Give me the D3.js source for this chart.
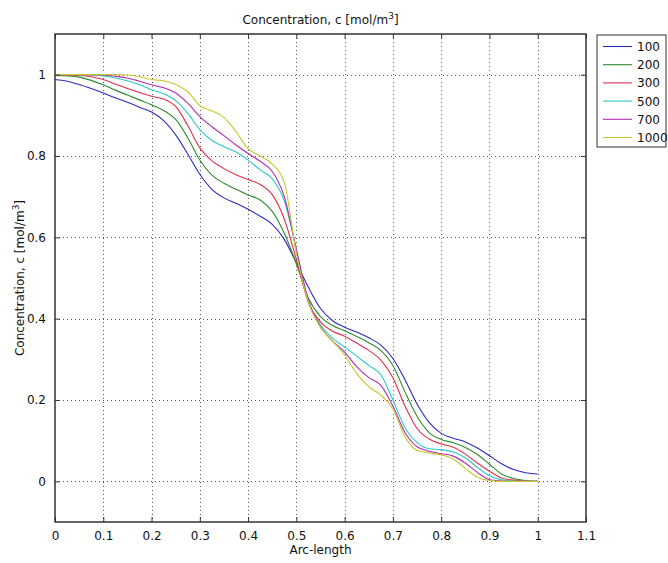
<!DOCTYPE html>
<html>
<head>
<meta charset="utf-8">
<script src="https://cdn.jsdelivr.net/npm/d3@7"></script>
<style>
  body { margin: 0; background: #fff; }
  svg text { font-family: "DejaVu Sans", sans-serif; font-size: 12px; fill: #111; }
</style>
</head>
<body>
<svg id="chart" width="668" height="563"></svg>
<script>
// Concentration along arc-length for several times

// arc-length positions (shared by every series)
const arcLength = [0, 0.025, 0.05, 0.075, 0.1, 0.125, 0.15, 0.175, 0.2, 0.225,
                   0.25, 0.275, 0.3, 0.325, 0.35, 0.375, 0.4, 0.425, 0.45, 0.475,
                   0.5, 0.525, 0.55, 0.575, 0.6, 0.625, 0.65, 0.675, 0.7, 0.725,
                   0.75, 0.775, 0.8, 0.825, 0.85, 0.875, 0.9, 0.925, 0.95, 0.975, 1.0];

const seriesNames = ['100', '200', '300', '500', '700', '1000'];

const c100 = [0.988, 0.984, 0.976, 0.966, 0.955, 0.943, 0.932, 0.920, 0.908, 0.887,
              0.852, 0.805, 0.755, 0.718, 0.697, 0.684, 0.669, 0.652, 0.632, 0.595,
              0.537, 0.477, 0.425, 0.395, 0.379, 0.367, 0.353, 0.335, 0.302, 0.250,
              0.190, 0.145, 0.118, 0.106, 0.097, 0.082, 0.063, 0.043, 0.029, 0.021, 0.018];
const c200 = [0.998, 0.997, 0.994, 0.986, 0.975, 0.962, 0.950, 0.938, 0.926, 0.912,
              0.890, 0.845, 0.790, 0.753, 0.733, 0.718, 0.704, 0.692, 0.664, 0.610,
              0.535, 0.450, 0.405, 0.383, 0.370, 0.356, 0.341, 0.322, 0.285, 0.220,
              0.160, 0.120, 0.103, 0.095, 0.083, 0.066, 0.042, 0.018, 0.007, 0.002, 0.000];
const c300 = [1.000, 0.999, 0.998, 0.995, 0.988, 0.977, 0.966, 0.956, 0.947, 0.940,
              0.922, 0.875, 0.820, 0.788, 0.769, 0.754, 0.742, 0.730, 0.705, 0.645,
              0.545, 0.440, 0.392, 0.369, 0.357, 0.340, 0.322, 0.298, 0.255, 0.185,
              0.130, 0.104, 0.092, 0.084, 0.067, 0.045, 0.025, 0.008, 0.003, 0.001, 0.000];
const c500 = [1.000, 1.000, 1.000, 0.999, 0.997, 0.992, 0.985, 0.975, 0.963, 0.953,
              0.936, 0.905, 0.865, 0.838, 0.823, 0.810, 0.790, 0.766, 0.744, 0.690,
              0.570, 0.440, 0.385, 0.352, 0.330, 0.308, 0.285, 0.262, 0.200, 0.132,
              0.095, 0.080, 0.078, 0.072, 0.058, 0.034, 0.014, 0.004, 0.001, 0.000, 0.000];
const c700 = [1.000, 1.000, 1.000, 1.000, 0.999, 0.996, 0.992, 0.984, 0.975, 0.968,
              0.955, 0.930, 0.897, 0.872, 0.850, 0.827, 0.806, 0.787, 0.762, 0.700,
              0.570, 0.445, 0.380, 0.345, 0.318, 0.282, 0.255, 0.236, 0.185, 0.120,
              0.085, 0.074, 0.068, 0.062, 0.045, 0.022, 0.004, 0.001, 0.000, 0.000, 0.000];
const c1000 = [1.000, 1.000, 1.000, 1.000, 1.000, 1.000, 0.999, 0.995, 0.988, 0.985,
               0.976, 0.958, 0.924, 0.911, 0.895, 0.860, 0.818, 0.800, 0.780, 0.735,
               0.560, 0.440, 0.378, 0.345, 0.310, 0.265, 0.233, 0.212, 0.178, 0.110,
               0.076, 0.070, 0.065, 0.055, 0.032, 0.010, 0.002, 0.000, 0.000, 0.000, 0.000];

const xTicks = [0, 0.1, 0.2, 0.3, 0.4, 0.5, 0.6, 0.7, 0.8, 0.9, 1, 1.1];
const yTicks = [0, 0.2, 0.4, 0.6, 0.8, 1];

const colours = ['#2b2bc4', '#2e8b2e', '#e0304a', '#2cc8c8', '#b22cb2', '#c8c82c'];

// plot area
const plotLeft = 55, plotRight = 586, plotTop = 34, plotBottom = 522;

const x = d3.scaleLinear().domain([0, 1.1]).range([plotLeft, plotRight]);
const y = d3.scaleLinear().domain([-0.1, 1.1]).range([plotBottom, plotTop]);

const svg = d3.select('#chart');

const seriesList = [c100, c200, c300, c500, c700, c1000].map(function (vals, i) {
  return { name: seriesNames[i], colour: colours[i],
           points: vals.map(function (v, j) { return [arcLength[j], v]; }) };
});

// dotted grid
svg.append('g')
  .selectAll('line')
  .data(xTicks.slice(1, -1))
  .enter()
  .append('line')
  .attr('x1', d => Math.round(x(d)) + 0.5).attr('x2', d => Math.round(x(d)) + 0.5)
  .attr('y1', plotTop).attr('y2', plotBottom)
  .attr('stroke', '#555').attr('stroke-width', 1)
  .attr('stroke-dasharray', '1,3');

svg.append('g')
  .selectAll('line')
  .data(yTicks)
  .enter()
  .append('line')
  .attr('x1', plotLeft).attr('x2', plotRight)
  .attr('y1', d => Math.round(y(d)) + 0.5).attr('y2', d => Math.round(y(d)) + 0.5)
  .attr('stroke', '#555').attr('stroke-width', 1)
  .attr('stroke-dasharray', '1,3');

// curves
const line = d3.line()
  .x(d => x(d[0]))
  .y(d => y(d[1]))
  .curve(d3.curveMonotoneX);

svg.append('g')
  .selectAll('path')
  .data(seriesList)
  .enter()
  .append('path')
  .attr('d', d => line(d.points))
  .attr('fill', 'none')
  .attr('stroke', d => d.colour)
  .attr('stroke-width', 1.1);

// axes (ticks point inwards like the original)
svg.append('g')
  .attr('transform', 'translate(0,' + plotBottom + ')')
  .call(d3.axisBottom(x).tickValues(xTicks).tickSize(-5).tickPadding(9).tickFormat(d3.format('~g')));
svg.append('g')
  .attr('transform', 'translate(' + plotLeft + ',0)')
  .call(d3.axisLeft(y).tickValues(yTicks).tickSize(-5).tickPadding(9).tickFormat(d3.format('~g')));
svg.append('g')
  .attr('transform', 'translate(0,' + plotTop + ')')
  .call(d3.axisTop(x).tickValues(xTicks).tickSize(-5).tickFormat(''));
svg.append('g')
  .attr('transform', 'translate(' + plotRight + ',0)')
  .call(d3.axisRight(y).tickValues(yTicks).tickSize(-5).tickFormat(''));

svg.selectAll('.domain').remove();
svg.selectAll('.tick line').attr('stroke', '#333');
svg.selectAll('.tick text').style('font-size', '12px').style('font-family', '"DejaVu Sans", sans-serif').attr('fill', '#111');

// plot frame
svg.append('rect')
  .attr('x', plotLeft).attr('y', plotTop)
  .attr('width', plotRight - plotLeft).attr('height', plotBottom - plotTop)
  .attr('fill', 'none').attr('stroke', '#333').attr('stroke-width', 1.5);

// title and labels
const title = svg.append('text')
  .attr('x', (plotLeft + plotRight) / 2).attr('y', 24)
  .attr('text-anchor', 'middle')
  .text('Concentration, c [mol/m');
title.append('tspan').attr('dy', -5).style('font-size', '9px').text('3');
title.append('tspan').attr('dy', 5).text(']');

svg.append('text')
  .attr('x', (plotLeft + plotRight) / 2).attr('y', 554)
  .attr('text-anchor', 'middle')
  .text('Arc-length');

const ylab = svg.append('text')
  .attr('transform', 'translate(24,' + ((plotTop + plotBottom) / 2) + ') rotate(-90)')
  .attr('text-anchor', 'middle')
  .text('Concentration, c [mol/m');
ylab.append('tspan').attr('dy', -5).style('font-size', '9px').text('3');
ylab.append('tspan').attr('dy', 5).text(']');

// legend
const legend = svg.append('g').attr('transform', 'translate(597,35)');
legend.append('rect')
  .attr('width', 69).attr('height', 112)
  .attr('fill', '#fff').attr('stroke', '#333').attr('stroke-width', 1);

const items = legend.selectAll('g.item')
  .data(seriesList)
  .enter()
  .append('g')
  .attr('class', 'item')
  .attr('transform', (d, i) => 'translate(0,' + (11.5 + i * 18.2) + ')');

items.append('line')
  .attr('x1', 6).attr('x2', 35)
  .attr('stroke', d => d.colour).attr('stroke-width', 1.1);
items.append('text')
  .attr('x', 40).attr('y', 4.5)
  .text(d => d.name);
</script>
</body>
</html>
